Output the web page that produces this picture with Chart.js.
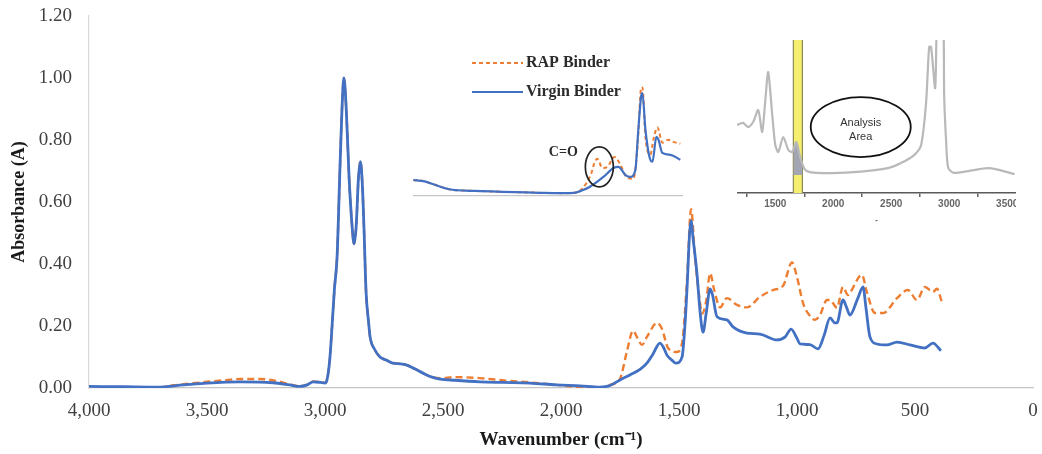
<!DOCTYPE html>
<html>
<head>
<meta charset="utf-8">
<title>FTIR spectra - RAP vs Virgin binder</title>
<script src="https://cdn.jsdelivr.net/npm/chart.js@4.4.0/dist/chart.umd.min.js"></script>
<style>
  body { margin: 0; background: #fff; }
  #wrap { position: relative; width: 1042px; height: 454px; overflow: hidden; }
  canvas { position: absolute; }
</style>
</head>
<body>
<div id="wrap">
  <canvas id="main" width="1042" height="454" style="left:0;top:0"></canvas>
  <canvas id="zoom" width="270" height="147" style="left:413px;top:50px"></canvas>
  <canvas id="ref" width="279" height="190" style="left:737px;top:36px"></canvas>
</div>
<script>
// --- main spectrum (wavenumber cm-1 / absorbance) ---
const virginWn = [4000, 3850, 3712, 3600, 3500, 3360, 3220, 3150, 3106, 3075, 3050, 3020, 3000, 2992, 2980, 2970, 2960, 2949, 2937, 2928, 2920, 2910, 2898, 2885, 2877, 2868, 2858, 2850, 2842, 2835, 2826, 2815, 2809, 2790, 2767, 2740, 2712, 2680, 2653, 2620, 2585, 2550, 2513, 2450, 2343, 2250, 2131, 2020, 1920, 1835, 1792, 1750, 1708, 1665, 1636, 1610, 1581, 1565, 1551, 1530, 1513, 1487, 1475, 1466, 1455, 1449, 1440, 1424, 1410, 1398, 1385, 1368, 1358, 1339, 1297, 1271, 1212, 1157, 1085, 1050, 1025, 1000, 987, 945, 911, 885, 860, 839, 831, 805, 790, 776, 742, 720, 708, 691, 661, 619, 576, 521, 458, 424, 390];
const virginAbs = [0.005, 0.004, 0.003, 0.010, 0.016, 0.020, 0.017, 0.010, 0.005, 0.010, 0.020, 0.018, 0.016, 0.025, 0.09, 0.20, 0.32, 0.42, 0.70, 0.90, 1.00, 0.90, 0.68, 0.52, 0.465, 0.52, 0.68, 0.73, 0.66, 0.52, 0.31, 0.21, 0.165, 0.125, 0.10, 0.09, 0.08, 0.078, 0.074, 0.062, 0.048, 0.036, 0.029, 0.025, 0.020, 0.018, 0.016, 0.010, 0.007, 0.003, 0.008, 0.026, 0.042, 0.060, 0.08, 0.11, 0.145, 0.13, 0.106, 0.09, 0.08, 0.10, 0.20, 0.32, 0.50, 0.54, 0.48, 0.37, 0.24, 0.18, 0.24, 0.32, 0.30, 0.23, 0.22, 0.197, 0.177, 0.174, 0.155, 0.165, 0.19, 0.16, 0.142, 0.14, 0.126, 0.17, 0.226, 0.21, 0.21, 0.284, 0.26, 0.235, 0.29, 0.326, 0.26, 0.165, 0.142, 0.139, 0.148, 0.139, 0.129, 0.145, 0.12];

const rapWn = [3700, 3650, 3600, 3500, 3400, 3360, 3275, 3200, 3150, 3106, 3075, 3050, 3020, 3000, 2992, 2980, 2970, 2960, 2949, 2937, 2928, 2920, 2910, 2898, 2885, 2877, 2868, 2858, 2850, 2842, 2835, 2826, 2815, 2809, 2790, 2767, 2740, 2712, 2680, 2653, 2620, 2585, 2550, 2513, 2450, 2343, 2250, 2131, 2020, 1920, 1835, 1792, 1750, 1720, 1695, 1675, 1657, 1636, 1593, 1572, 1547, 1509, 1487, 1466, 1449, 1432, 1415, 1402, 1385, 1368, 1352, 1326, 1297, 1254, 1212, 1157, 1102, 1059, 1021, 1000, 974, 937, 924, 903, 873, 860, 839, 831, 805, 784, 776, 725, 704, 670, 635, 576, 530, 492, 458, 424, 407, 386];
const rapAbs = [0.000, 0.008, 0.012, 0.020, 0.027, 0.029, 0.029, 0.022, 0.012, 0.006, 0.011, 0.021, 0.019, 0.017, 0.025, 0.09, 0.20, 0.32, 0.42, 0.70, 0.90, 1.00, 0.90, 0.68, 0.52, 0.465, 0.52, 0.68, 0.73, 0.66, 0.52, 0.31, 0.21, 0.165, 0.125, 0.10, 0.09, 0.08, 0.078, 0.074, 0.062, 0.048, 0.036, 0.032, 0.035, 0.032, 0.025, 0.018, 0.010, 0.003, 0.000, 0.010, 0.030, 0.12, 0.185, 0.16, 0.139, 0.165, 0.21, 0.19, 0.13, 0.116, 0.145, 0.35, 0.577, 0.42, 0.30, 0.24, 0.28, 0.37, 0.32, 0.26, 0.29, 0.268, 0.26, 0.294, 0.316, 0.33, 0.405, 0.358, 0.273, 0.226, 0.22, 0.235, 0.284, 0.284, 0.264, 0.258, 0.326, 0.30, 0.306, 0.365, 0.31, 0.242, 0.242, 0.29, 0.316, 0.284, 0.326, 0.31, 0.32, 0.277];

const mainXTicks = [4000, 3500, 3000, 2500, 2000, 1500, 1000, 500, 0];
const mainYTicks = [0, 0.2, 0.4, 0.6, 0.8, 1.0, 1.2];

// --- inset 1: magnified 2760-1230 cm-1 ---
const zoomVirginWn = [2758, 2700, 2640, 2548, 2460, 2378, 2250, 2120, 2020, 1900, 1850, 1800, 1760, 1681, 1624, 1596, 1556, 1528, 1500, 1483, 1466, 1460, 1443, 1415, 1403, 1381, 1369, 1347, 1301, 1245];
const zoomVirginAbs = [0.084, 0.078, 0.060, 0.034, 0.028, 0.026, 0.022, 0.019, 0.016, 0.015, 0.016, 0.030, 0.047, 0.10, 0.147, 0.153, 0.11, 0.10, 0.137, 0.35, 0.53, 0.54, 0.35, 0.19, 0.18, 0.31, 0.295, 0.226, 0.216, 0.19];
const zoomRapWn = [2758, 2700, 2640, 2548, 2460, 2378, 2250, 2120, 2020, 1900, 1850, 1800, 1749, 1732, 1715, 1687, 1658, 1619, 1590, 1550, 1511, 1488, 1466, 1460, 1443, 1415, 1398, 1375, 1347, 1313, 1284, 1245];
const zoomRapAbs = [0.084, 0.078, 0.060, 0.034, 0.028, 0.026, 0.022, 0.019, 0.016, 0.015, 0.016, 0.040, 0.12, 0.174, 0.195, 0.147, 0.153, 0.205, 0.174, 0.10, 0.09, 0.26, 0.57, 0.57, 0.31, 0.216, 0.295, 0.36, 0.28, 0.295, 0.284, 0.274];

// --- inset 2: reference spectrum with analysis band ---
const refWn = [1170, 1222, 1266, 1309, 1353, 1387, 1413, 1439, 1474, 1500, 1526, 1569, 1613, 1647, 1682, 1717, 1760, 1864, 2176, 2471, 2584, 2697, 2758, 2801, 2827, 2844, 2879, 2900, 2945, 2957, 2974, 2992, 3044, 3339, 3564];
const refVal = [0.444, 0.458, 0.431, 0.464, 0.542, 0.399, 0.595, 0.79, 0.51, 0.314, 0.268, 0.366, 0.281, 0.268, 0.333, 0.229, 0.150, 0.131, 0.137, 0.163, 0.196, 0.248, 0.314, 0.595, 0.954, 0.954, 0.686, 1.2, 1.2, 0.627, 0.33, 0.163, 0.131, 0.163, 0.124];
const bandWn = [1656, 1682, 1700, 1717, 1734];
const bandVal = [0.28, 0.333, 0.28, 0.229, 0.19];
const refTicks = [1250, 1500, 1750, 2000, 2250, 2500, 2750, 3000, 3250, 3500];

const BLUE = '#4270c2';
const ORANGE = '#ed7d31';
const SERIF = '"Liberation Serif", "Times New Roman", serif';
const SANS = '"Liberation Sans", Arial, sans-serif';

function pairs(xs, ys) {
    return xs.map((x, i) => ({ x: x, y: ys[i] }));
}

// Main chart
new Chart(document.getElementById('main'), {
    type: 'line',
    data: {
        datasets: [
            { label: 'Virgin Binder', data: pairs(virginWn, virginAbs), borderColor: BLUE, borderWidth: 2.8, pointRadius: 0, cubicInterpolationMode: 'monotone' },
            { label: 'RAP Binder', data: pairs(rapWn, rapAbs), borderColor: ORANGE, borderWidth: 2.4, borderDash: [7, 4], pointRadius: 0, cubicInterpolationMode: 'monotone' }
        ]
    },
    options: {
        responsive: false,
        animation: false,
        layout: { padding: { top: 16, right: 9, left: 0, bottom: 0 } },
        plugins: { legend: { display: false }, tooltip: { enabled: false } },
        scales: {
            x: {
                type: 'linear', reverse: true, min: 0, max: 4000,
                afterBuildTicks: s => { s.ticks = mainXTicks.map(v => ({ value: v })); },
                afterFit: s => { s.height = 66; s.paddingLeft = 0; s.paddingRight = 0; },
                grid: { display: false, drawTicks: false },
                border: { display: true, color: '#c4c4c4', width: 1.2 },
                ticks: { padding: 12, maxRotation: 0, autoSkip: false, color: '#404040', font: { family: SERIF, size: 19 }, callback: v => v.toLocaleString('en-US') },
                title: { display: true, text: 'Wavenumber (cm⁻¹)', color: '#1a1a1a', font: { family: SERIF, size: 19, weight: 'bold' }, padding: { top: 0, bottom: 3 } }
            },
            y: {
                min: 0, max: 1.2,
                afterBuildTicks: s => { s.ticks = mainYTicks.map(v => ({ value: v })); },
                afterFit: s => { s.width = 89; s.paddingTop = 0; s.paddingBottom = 0; },
                grid: { display: false, drawTicks: false },
                border: { display: true, color: '#d9d9d9', width: 1.2 },
                ticks: { padding: 17, color: '#404040', font: { family: SERIF, size: 19 }, callback: v => v.toFixed(2) },
                title: { display: true, text: 'Absorbance (A)', color: '#1a1a1a', font: { family: SERIF, size: 18, weight: 'bold' }, padding: { top: 9, bottom: 0 } }
            }
        }
    }
});

// Inset 1: legend + C=O mark
const zoomMarks = {
    id: 'zoomMarks',
    afterDraw(chart) {
        const ctx = chart.ctx;
        const area = chart.chartArea;
        const sx = chart.scales.x, sy = chart.scales.y;
        ctx.save();
        // legend (RAP first, as in the figure)
        const order = [1, 0];
        order.forEach((di, row) => {
            const ds = chart.data.datasets[di];
            const y = 13 + row * 29;
            const x0 = area.left + 59;
            ctx.strokeStyle = ds.borderColor;
            ctx.lineWidth = 2.2;
            ctx.setLineDash(ds.borderDash || []);
            ctx.beginPath();
            ctx.moveTo(x0, y);
            ctx.lineTo(x0 + 51, y);
            ctx.stroke();
            ctx.setLineDash([]);
            ctx.fillStyle = '#2b2b2b';
            ctx.font = 'bold 16px ' + SERIF;
            ctx.textBaseline = 'middle';
            ctx.textAlign = 'left';
            ctx.fillText(ds.label, x0 + 54, y);
        });
        // C=O ellipse
        ctx.strokeStyle = '#222';
        ctx.lineWidth = 1.7;
        ctx.beginPath();
        ctx.ellipse(sx.getPixelForValue(1704), sy.getPixelForValue(0.153), 14, 20, 0, 0, Math.PI * 2);
        ctx.stroke();
        ctx.fillStyle = '#2b2b2b';
        ctx.font = 'bold 14px ' + SERIF;
        ctx.textAlign = 'center';
        ctx.fillText('C=O', sx.getPixelForValue(1908), sy.getPixelForValue(0.23));
        ctx.restore();
    }
};

new Chart(document.getElementById('zoom'), {
    type: 'line',
    data: {
        datasets: [
            { label: 'Virgin Binder', data: pairs(zoomVirginWn, zoomVirginAbs), borderColor: BLUE, borderWidth: 2.2, pointRadius: 0, cubicInterpolationMode: 'monotone' },
            { label: 'RAP Binder', data: pairs(zoomRapWn, zoomRapAbs), borderColor: ORANGE, borderWidth: 2, borderDash: [4, 3], pointRadius: 0, cubicInterpolationMode: 'monotone' }
        ]
    },
    options: {
        responsive: false,
        animation: false,
        layout: { padding: { top: 5, left: 0, right: 0, bottom: 0 } },
        plugins: { legend: { display: false }, tooltip: { enabled: false } },
        scales: {
            x: {
                type: 'linear', reverse: true, min: 1230, max: 2760,
                afterFit: s => { s.height = 1; s.paddingLeft = 0; s.paddingRight = 0; },
                grid: { display: false, drawTicks: false },
                border: { display: true, color: '#c8c8c8', width: 1.2 },
                ticks: { display: false }
            },
            y: { display: false, min: 0, max: 0.74 }
        }
    },
    plugins: [zoomMarks]
});

// Inset 2: yellow band and analysis area
const refMarks = {
    id: 'refMarks',
    beforeDatasetsDraw(chart) {
        const ctx = chart.ctx;
        const area = chart.chartArea;
        const sx = chart.scales.x;
        const x1 = sx.getPixelForValue(1656), x2 = sx.getPixelForValue(1734);
        ctx.save();
        ctx.fillStyle = '#f4ef6e';
        ctx.fillRect(x1, area.top, x2 - x1, area.bottom - area.top);
        ctx.strokeStyle = '#8c8a55';
        ctx.lineWidth = 1.2;
        ctx.beginPath();
        ctx.moveTo(x1, area.top); ctx.lineTo(x1, area.bottom);
        ctx.moveTo(x2, area.top); ctx.lineTo(x2, area.bottom);
        ctx.stroke();
        ctx.restore();
    },
    afterDatasetsDraw(chart) {
        const ctx = chart.ctx;
        const sx = chart.scales.x, sy = chart.scales.y;
        const cx = sx.getPixelForValue(2237);
        ctx.save();
        ctx.strokeStyle = '#111';
        ctx.lineWidth = 1.8;
        ctx.beginPath();
        ctx.ellipse(cx, sy.getPixelForValue(0.431), 50, 30, 0, 0, Math.PI * 2);
        ctx.stroke();
        ctx.fillStyle = '#333';
        ctx.font = '11px ' + SANS;
        ctx.textAlign = 'center';
        ctx.textBaseline = 'middle';
        ctx.fillText('Analysis', cx, sy.getPixelForValue(0.457));
        ctx.fillText('Area', cx, sy.getPixelForValue(0.366));
        ctx.restore();
    }
};

new Chart(document.getElementById('ref'), {
    type: 'line',
    data: {
        datasets: [
            { label: 'Reference', data: pairs(refWn, refVal), borderColor: '#b9b9b9', borderWidth: 2.2, pointRadius: 0, tension: 0.25 },
            { label: 'C=O band', data: pairs(bandWn, bandVal), borderWidth: 0, pointRadius: 0, backgroundColor: '#a3a5b2', fill: { value: 0.118 }, tension: 0.25 }
        ]
    },
    options: {
        responsive: false,
        animation: false,
        layout: { padding: { top: 4, left: 0, right: 0, bottom: 0 } },
        plugins: { legend: { display: false }, tooltip: { enabled: false } },
        scales: {
            x: {
                type: 'linear', min: 1170, max: 3576,
                afterBuildTicks: s => { s.ticks = refTicks.map(v => ({ value: v })); },
                afterFit: s => { s.height = 33; s.paddingLeft = 0; s.paddingRight = 0; },
                grid: { display: true, drawOnChartArea: false, drawTicks: true, tickLength: 4, lineWidth: 1.5,
                        color: c => (c.tick && c.tick.value % 500 === 0) ? 'rgba(0,0,0,0)' : '#666' },
                border: { display: true, color: '#5a5a5a', width: 1.5 },
                ticks: { padding: 1, maxRotation: 0, autoSkip: false, color: '#666', font: { family: SANS, size: 10, weight: 'bold' },
                         callback: v => (v % 500 === 0 ? String(v) : '') },
                title: { display: true, text: '-', color: '#777', font: { family: SANS, size: 9, weight: 'bold' }, padding: 0 }
            },
            y: { display: false, min: 0, max: 1 }
        }
    },
    plugins: [refMarks]
});
</script>
</body>
</html>
